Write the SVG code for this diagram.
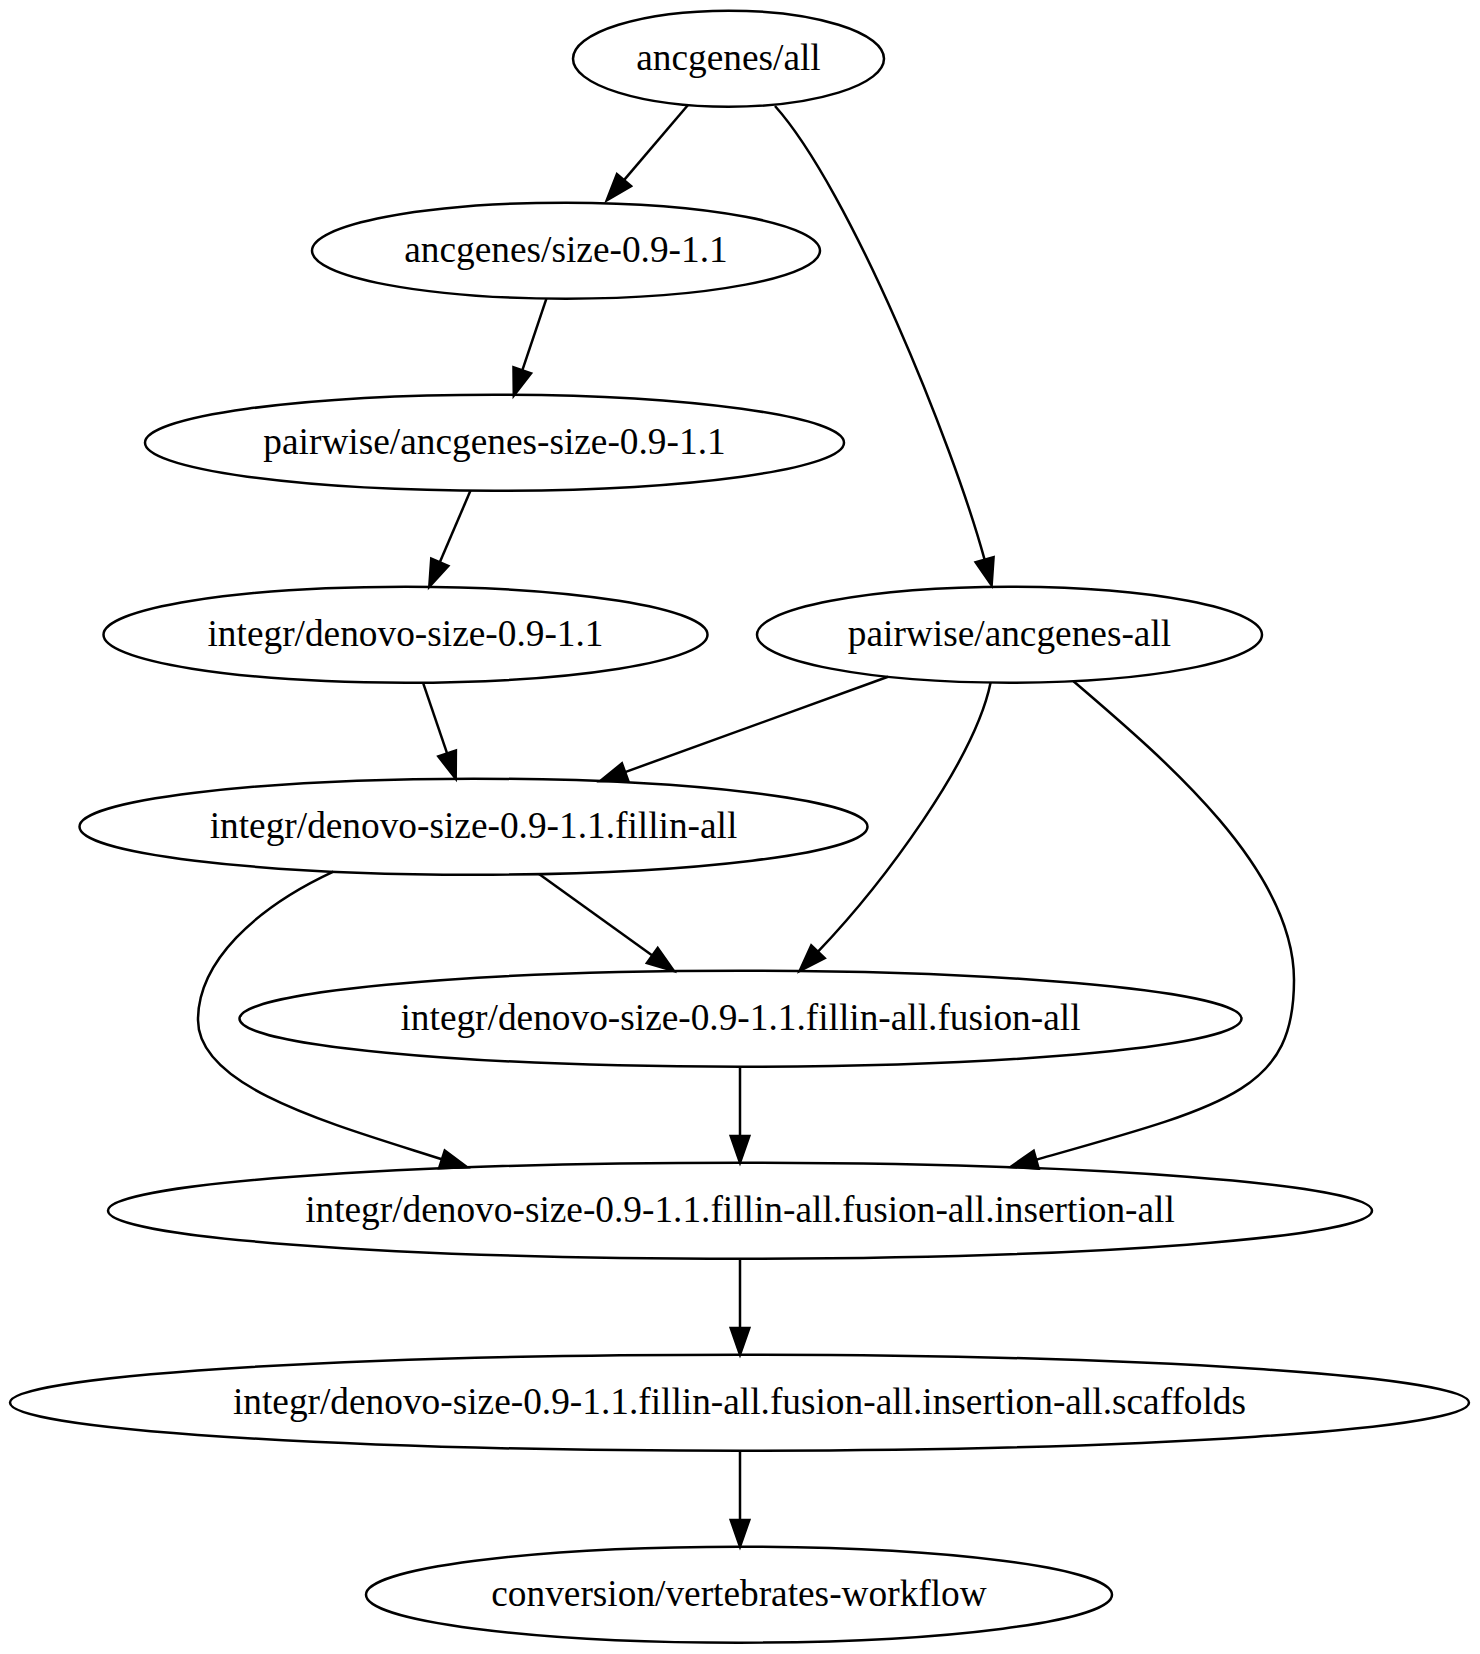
<svg xmlns="http://www.w3.org/2000/svg" width="1480" height="1654" viewBox="0 0 1480 1654">
<style>
.n ellipse{fill:none;stroke:#000;stroke-width:2.5}
.n text{font-family:"Liberation Serif","Times New Roman",serif;font-size:37.33px;text-anchor:middle;fill:#000}
.e path{fill:none;stroke:#000;stroke-width:2.5;marker-end:url(#ah)}
</style>
<defs>
<marker id="ah" markerUnits="userSpaceOnUse" markerWidth="32" markerHeight="24" viewBox="-2 -12 32 24" refX="0" refY="0" orient="auto" overflow="visible">
<path d="M0,-9.3 L26.7,0 L0,9.3 Z" fill="#000" stroke="#000" stroke-width="2.5"/>
</marker>
</defs>
<rect width="1480" height="1654" fill="#fff"/>
<g id="edges" class="e">
<path d="M688,105 L624,180.1"/>
<path d="M775,106 C850,190 953,443.9 984.6,559.7"/>
<path d="M546.4,298.6 L522.3,370.3"/>
<path d="M470.5,490.6 L439.8,562.3"/>
<path d="M423,682.6 L447.1,753.4"/>
<path d="M888,676.8 L625.1,772.1"/>
<path d="M990.6,682.6 C975,760 883.5,882.9 818,951.7"/>
<path d="M539,874 L652.3,955.5"/>
<path d="M1073.5,681.2 C1168,762 1294,870 1294,980 C1294,1090 1230,1105 1036.2,1159.7"/>
<path d="M333.4,871.6 C255,908 198,962 198,1020 C198,1088 332.4,1124.2 441.9,1159.3"/>
<path d="M740,1066.7 L740,1136"/>
<path d="M740,1258.7 L740,1328"/>
<path d="M740,1450.7 L740,1520"/>
</g>
<g id="n1" class="n"><ellipse cx="728.5" cy="58.7" rx="155.5" ry="48"/><text x="728.5" y="69.5">ancgenes/all</text></g>
<g id="n2" class="n"><ellipse cx="566" cy="250.7" rx="254" ry="48"/><text x="566" y="261.5">ancgenes/size-0.9-1.1</text></g>
<g id="n3" class="n"><ellipse cx="494.5" cy="442.7" rx="349.5" ry="48"/><text x="494.5" y="453.5">pairwise/ancgenes-size-0.9-1.1</text></g>
<g id="n4" class="n"><ellipse cx="405.5" cy="634.7" rx="302" ry="48"/><text x="405.5" y="645.5">integr/denovo-size-0.9-1.1</text></g>
<g id="n5" class="n"><ellipse cx="1009.5" cy="634.7" rx="252.5" ry="48"/><text x="1009.5" y="645.5">pairwise/ancgenes-all</text></g>
<g id="n6" class="n"><ellipse cx="473.5" cy="826.7" rx="394" ry="48"/><text x="473.5" y="837.5">integr/denovo-size-0.9-1.1.fillin-all</text></g>
<g id="n7" class="n"><ellipse cx="740.5" cy="1018.7" rx="501" ry="48"/><text x="740.5" y="1029.5">integr/denovo-size-0.9-1.1.fillin-all.fusion-all</text></g>
<g id="n8" class="n"><ellipse cx="740" cy="1210.7" rx="632" ry="48"/><text x="740" y="1221.5">integr/denovo-size-0.9-1.1.fillin-all.fusion-all.insertion-all</text></g>
<g id="n9" class="n"><ellipse cx="739.5" cy="1402.7" rx="729.5" ry="48"/><text x="739.5" y="1413.5">integr/denovo-size-0.9-1.1.fillin-all.fusion-all.insertion-all.scaffolds</text></g>
<g id="n10" class="n"><ellipse cx="739" cy="1594.7" rx="373" ry="48"/><text x="739" y="1605.5">conversion/vertebrates-workflow</text></g>
</svg>
